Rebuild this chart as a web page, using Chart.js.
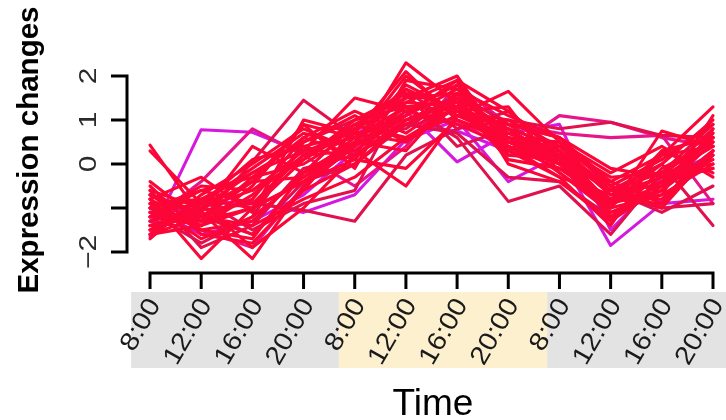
<!DOCTYPE html>
<html>
<head>
<meta charset="utf-8">
<script src="https://cdn.jsdelivr.net/npm/chart.js@4.4.1/dist/chart.umd.min.js"></script>
<style>
  html, body { margin: 0; padding: 0; background: #fff; }
  canvas { display: block; }
</style>
</head>
<body>
<canvas id="expressionChart" width="726" height="420"></canvas>
<script>
// sampling times, three days
const timeLabels = ['8:00', '12:00', '16:00', '20:00', '8:00', '12:00', '16:00', '20:00', '8:00', '12:00', '16:00', '20:00'];
const yTicks = [-2, -1, 0, 1, 2];
const yTickLabels = ['\u22122', '', '0', '1', '2'];

// expression profiles, one array per gene
const g01 = [-1.65, 0.78, 0.72, 0.25, 0.8, 0.9, 0.75, 0.3, 0.15, -0.4, -0.85, 0.3];
const g02 = [-1.2, -0.9, -0.85, -1.1, -0.7, 0.55, 1.0, -0.4, 0.2, -1.85, -0.9, -0.8];
const g03 = [0.43, -1.2, -1.4, -0.8, -0.3, 0.6, 1.3, 0.5, 0.0, -0.8, -0.3, 0.4];
const g04 = [0.3, -0.9, -1.9, -1.0, 0.2, 1.0, 1.5, 0.7, 0.3, -0.9, -0.6, 0.5];
const g05 = [-0.8, -2.15, -1.0, -0.4, 0.5, 1.8, 1.2, 0.6, -0.2, -1.0, 0.2, 1.3];
const g06 = [-1.4, -1.1, -2.15, -0.5, 0.4, 2.3, 1.4, 0.4, 0.1, -1.2, -0.4, 0.6];
const g07 = [-1.0, -1.3, 0.05, 1.45, 0.6, 0.8, 1.6, 0.9, 0.2, -0.6, 0.0, -1.4];
const g08 = [-0.6, -1.0, -0.2, 0.3, 1.5, 1.2, 0.9, 0.4, -0.1, -0.9, -0.5, 0.7];
const g09 = [-1.5, -1.05, -0.9, -1.05, -1.3, 0.2, 0.8, 1.0, 0.8, 0.95, 0.65, 0.6];
const g10 = [-1.2, -0.6, -0.3, 0.0, 0.7, 2.1, 1.0, 0.5, 0.3, -0.7, -0.8, 0.3];
const g11 = [-0.9, -1.5, -1.7, -0.2, 0.9, 1.5, 2.0, 0.3, -0.3, -1.4, 0.3, -0.2];
const g12 = [-1.7, -0.7, 0.0, 0.8, 0.3, -0.5, 1.1, 1.65, 0.5, -0.5, -1.0, 0.8];
const g13 = [-1.1, -1.8, -1.2, 0.5, 1.0, 1.3, 0.6, -0.85, -0.5, -1.6, -0.2, 0.9];
const g14 = [-0.7, -1.4, -0.5, 0.9, -0.1, 1.9, 1.7, 1.1, 0.6, -0.4, -0.9, 0.2];
const g15 = [-1.3, -0.4, 0.8, 0.2, -0.5, 0.4, 1.8, 0.9, 0.7, 0.6, 0.65, -0.9];
const g16 = [-0.5, -1.6, -1.8, -0.6, 0.0, 1.0, 1.2, 1.3, -0.2, -1.1, -0.7, 1.1];
const g17 = [-1.6, -1.2, -0.8, 0.6, 1.2, 0.7, 1.5, 0.2, 0.4, -0.3, -0.2, 0.0];
const g18 = [-0.9, -0.8, -1.5, -0.9, -0.6, 1.6, 0.4, 0.8, 0.1, -0.6, -1.1, -0.5];
const g19 = [-1.4, -1.0, -0.4, -0.3, 0.6, 1.1, 1.9, 0.0, -0.4, -1.3, -0.1, 0.5];
const g20 = [-0.4, -1.3, -1.0, 0.4, 0.1, -0.1, 1.0, 0.6, 0.5, -0.2, 0.4, -0.3];
const g21 = [-1.0, -1.6, -1.3, -0.7, 0.3, 1.2, 0.05, 0.7, 0.9, -1.5, -0.3, 0.2];
const g22 = [-1.2, -0.5, -0.6, 0.1, 0.8, 1.4, 1.3, 0.4, 0.0, -1.0, 0.75, 0.4];
const g23 = [-0.6, -1.9, -1.4, -0.1, 0.2, 1.7, 0.8, 1.2, 0.3, -0.7, -1.0, -0.9];
const g24 = [-1.5, -1.1, 0.4, -0.2, 0.5, 0.3, 1.6, 0.5, 0.2, -0.5, 0.1, 0.9];
const g25 = [-0.8, -0.3, -1.1, 1.0, 0.7, 1.0, 1.4, 0.1, -0.1, -0.8, -0.4, 0.6];
const g26 = [-1.3, -1.5, -1.9, -0.5, 0.5, 0.9, 1.0, 0.3, 1.1, 0.95, 0.6, 0.4];
const g27 = [-1.0, -0.8, -0.2, 0.5, 1.1, 0.5, 1.5, 0.8, 0.4, -0.6, -0.5, 0.1];
const g28 = [-0.7, -1.2, -1.6, -0.4, 0.0, 0.9, 0.7, -0.3, -0.4, -1.2, -0.6, 0.3];
const g29 = [-1.6, -0.9, -0.1, 0.7, 0.4, 1.3, 1.2, 0.9, 0.6, -0.1, -0.3, -0.1];
const g30 = [-1.1, -1.4, -0.7, 0.2, 0.9, 0.6, 1.1, 0.6, 0.2, -0.9, 0.0, 1.0];
const g31 = [-1.3, -1.0, -0.6, 0.3, 0.6, 1.5, 1.6, 0.7, 0.3, -0.6, -0.2, 0.5];
const g32 = [-0.9, -1.7, -1.2, -0.3, 0.4, 1.2, 1.8, 0.5, 0.1, -1.1, -0.6, 0.7];
const g33 = [-1.5, -0.8, -1.0, 0.1, 1.0, 1.6, 1.3, 0.8, 0.0, -0.8, -0.9, 0.2];
const g34 = [-1.2, -1.3, -0.3, 0.6, 0.2, 0.9, 1.5, 0.3, 0.5, -1.3, -0.5, 0.6];
const g35 = [-0.7, -1.1, -1.6, -0.6, 0.8, 1.7, 1.2, 1.0, 0.4, -0.4, 0.2, 0.4];
const g36 = [-1.0, -0.6, -0.9, 0.2, 0.3, 1.1, 1.7, 0.6, 0.2, -1.0, -0.7, 0.0];
const g37 = [-1.4, -1.2, -0.4, 0.9, 0.6, 1.3, 1.4, 0.4, -0.3, -0.7, -0.3, 0.8];
const g38 = [-0.8, -1.5, -1.3, -0.2, 0.5, 2.0, 1.1, 0.9, 0.6, -0.5, -1.0, 0.3];
const g39 = [-1.1, -0.9, 0.1, 0.4, 0.7, 0.5, 1.3, 0.2, 0.1, -0.9, 0.3, 0.6];
const g40 = [-1.6, -1.4, -1.0, -0.4, 0.1, 1.4, 1.9, 1.2, 0.2, -1.2, -0.4, -0.1];

// drawn in this order, later ones on top
const profiles = [g01, g02, g21, g15, g26, g09, g07, g13, g18, g23, g28, g12,
                  g03, g04, g05, g06, g08, g10, g11, g14, g16, g17, g19, g20, g22, g24, g25, g27, g29, g30,
                  g31, g32, g33, g34, g35, g36, g37, g38, g39, g40];

const RED = 'rgb(252, 6, 56)';
const CRIMSON = 'rgb(226, 16, 76)';
const PINK = 'rgb(232, 20, 140)';
const MAGENTA = 'rgb(214, 24, 222)';
const lineColors = [MAGENTA, MAGENTA, MAGENTA, PINK, PINK, CRIMSON, CRIMSON, CRIMSON, CRIMSON, CRIMSON, CRIMSON, RED,
                    RED, RED, RED, RED, RED, RED, RED, RED, RED, RED, RED, RED, RED, RED, RED, RED, RED, RED,
                    RED, RED, RED, RED, RED, RED, RED, RED, RED, RED];

// day / night strips under the axis
const bandEdges = [-0.37, 3.69, 7.76, 11.8];
const bandColors = ['#e3e3e3', '#fdf0cf', '#e3e3e3'];

function drawLabel(ctx, text, px, py, angle, stretch) {
  ctx.save();
  ctx.translate(px, py);
  ctx.rotate(angle);
  ctx.scale(stretch, 1);
  ctx.fillText(text, 0, 0);
  ctx.restore();
}

const rAxes = {
  id: 'rAxes',
  beforeDatasetsDraw(chart) {
    const { ctx, scales: { x } } = chart;
    ctx.save();
    for (let i = 0; i < bandColors.length; i++) {
      const x0 = x.getPixelForValue(bandEdges[i]);
      const x1 = x.getPixelForValue(bandEdges[i + 1]);
      ctx.fillStyle = bandColors[i];
      ctx.fillRect(x0, 292, x1 - x0, 76);
    }
    ctx.restore();
  },
  afterDraw(chart) {
    const { ctx, scales: { x, y } } = chart;
    ctx.save();
    ctx.strokeStyle = '#000';
    ctx.lineWidth = 3;
    ctx.lineCap = 'butt';

    // x axis
    const axisY = 273;
    const xFirst = x.getPixelForValue(0);
    const xLast = x.getPixelForValue(timeLabels.length - 1);
    ctx.beginPath();
    ctx.moveTo(xFirst - 1.5, axisY);
    ctx.lineTo(xLast + 1.5, axisY);
    timeLabels.forEach((lab, i) => {
      const px = x.getPixelForValue(i);
      ctx.moveTo(px, axisY);
      ctx.lineTo(px, axisY + 16);
    });
    ctx.stroke();

    ctx.fillStyle = '#1a1a1a';
    ctx.font = '26px "Liberation Sans", Arial, sans-serif';
    ctx.textAlign = 'right';
    ctx.textBaseline = 'middle';
    timeLabels.forEach((lab, i) => {
      drawLabel(ctx, lab, x.getPixelForValue(i) + 5, 301, -60 * Math.PI / 180, 1.1);
    });

    // y axis
    const axisX = 127;
    ctx.beginPath();
    ctx.moveTo(axisX, y.getPixelForValue(yTicks[0]) + 1.5);
    ctx.lineTo(axisX, y.getPixelForValue(yTicks[yTicks.length - 1]) - 1.5);
    yTicks.forEach((t) => {
      const py = y.getPixelForValue(t);
      ctx.moveTo(axisX, py);
      ctx.lineTo(axisX - 16, py);
    });
    ctx.stroke();

    ctx.fillStyle = '#2a2a2a';
    ctx.font = '24px "Liberation Sans", Arial, sans-serif';
    ctx.textAlign = 'center';
    ctx.textBaseline = 'middle';
    yTicks.forEach((t, i) => {
      if (!yTickLabels[i]) return;
      drawLabel(ctx, yTickLabels[i], 89, y.getPixelForValue(t), -Math.PI / 2, 1.25);
    });

    // axis titles
    ctx.fillStyle = '#000';
    ctx.font = 'bold 29.5px "Liberation Sans", Arial, sans-serif';
    drawLabel(ctx, 'Expression changes', 30, 150, -Math.PI / 2, 1);

    ctx.font = '37px "Liberation Sans", Arial, sans-serif';
    ctx.textBaseline = 'alphabetic';
    ctx.fillText('Time', 433, 415);
    ctx.restore();
  }
};

const datasets = profiles.map((vals, k) => ({
  data: vals.map((v, i) => ({ x: i, y: v })),
  borderColor: lineColors[k],
  borderWidth: 3.1,
  pointRadius: 0,
  tension: 0,
  fill: false,
  clip: false,
  order: profiles.length - k,
  borderJoinStyle: 'round',
  borderCapStyle: 'round'
}));

new Chart(document.getElementById('expressionChart').getContext('2d'), {
  type: 'line',
  data: { datasets },
  options: {
    responsive: false,
    animation: false,
    devicePixelRatio: 1,
    layout: { padding: { left: 127.5, right: 0, top: 54, bottom: 150.4 } },
    plugins: { legend: { display: false }, tooltip: { enabled: false } },
    scales: {
      x: { type: 'linear', min: -0.44, max: 11.254, display: false },
      y: { type: 'linear', min: -2.4, max: 2.5, display: false }
    }
  },
  plugins: [rAxes]
});
</script>
</body>
</html>
